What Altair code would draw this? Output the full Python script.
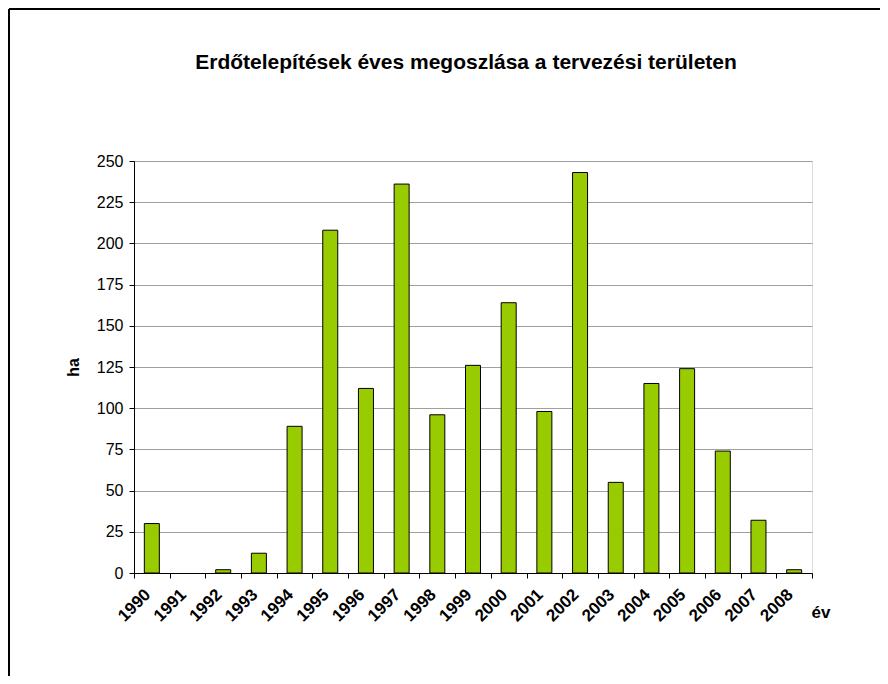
import altair as alt
import pandas as pd

years = [str(y) for y in range(1990, 2009)]
values = [30, 0, 2, 12, 89, 208, 112, 236, 96, 126, 164, 98, 243, 55, 115, 124, 74, 32, 2]

title_text = "Erdőtelepítések éves megoszlása a tervezési területen"
y_title = "ha"
x_title = "év"

df = pd.DataFrame({"ev": years, "ha": values})

FONT = "Liberation Sans"

bars = alt.Chart(df).transform_filter("datum.ha > 0").mark_bar(
    size=15, color="#99cc00", stroke="#000000", strokeWidth=1
).encode(
    x=alt.X(
        "ev:N",
        scale=alt.Scale(domain=years, paddingInner=0, paddingOuter=0),
        axis=alt.Axis(
            title=x_title,
            titleX=677, titleY=39, titleAlign="left", titleBaseline="middle",
            titleFont=FONT, titleFontSize=17, titleFontWeight="bold",
            labelAngle=-45, labelAlign="right", labelBaseline="top",
            labelOffset=-10, labelPadding=8,
            labelFont=FONT, labelFontSize=17, labelFontWeight="bold", labelColor="#000000",
            tickBand="extent", tickSize=5, tickColor="#000000",
            domainColor="#000000", grid=False,
        ),
    ),
    y=alt.Y(
        "ha:Q",
        scale=alt.Scale(domain=[0, 250], nice=False),
        axis=alt.Axis(
            title=y_title,
            titleX=-61, titleY=206, titleAngle=-90, titleAlign="center", titleBaseline="middle",
            titleFont=FONT, titleFontSize=16, titleFontWeight="bold",
            values=list(range(0, 251, 25)),
            labelFont=FONT, labelFontSize=16, labelColor="#000000", labelPadding=6,
            tickSize=5, tickColor="#000000", domainColor="#000000",
            grid=True, gridColor="#a0a0a0", gridWidth=1,
        ),
    ),
)

border_top = alt.Chart(df).mark_rule(color="#000000", strokeWidth=1, clip=False).encode(
    x=alt.value(-125), x2=alt.value(760), y=alt.value(-152)
)
border_left = alt.Chart(df).mark_rule(color="#000000", strokeWidth=1, clip=False).encode(
    x=alt.value(-125), y=alt.value(-152), y2=alt.value(520)
)

chart = alt.layer(bars, border_top, border_left).properties(
    width=678,
    height=412,
    padding={"left": 126, "top": 153, "right": 68, "bottom": 103},
    autosize=alt.AutoSizeParams(type="none"),
    title=alt.TitleParams(
        text=title_text, font=FONT, fontSize=21, fontWeight="bold", color="#000000",
        anchor="middle", dx=-7, offset=-64,
    ),
).configure_view(
    stroke="#808080", strokeWidth=1
).configure(background="#ffffff")

chart.save("out.html", embed_options={"renderer": "svg", "actions": False})
